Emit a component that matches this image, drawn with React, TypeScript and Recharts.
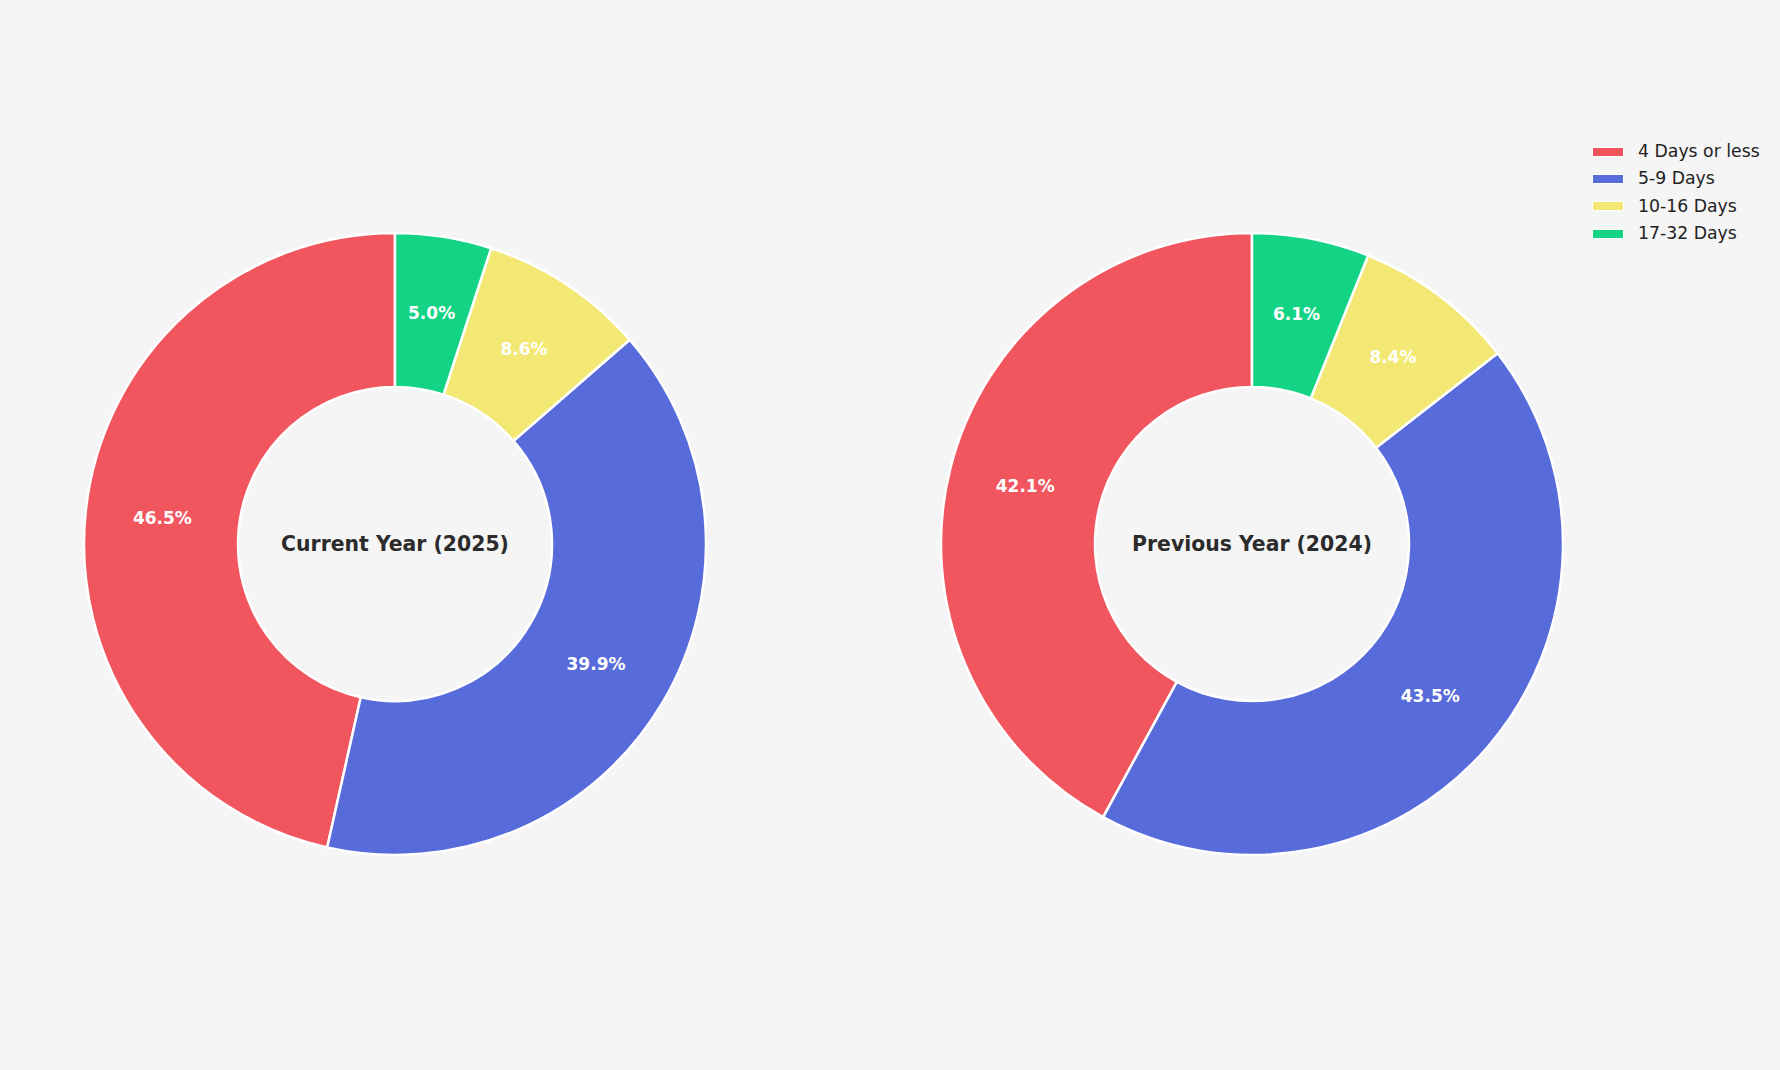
import React from "react";
import { PieChart, Pie, Cell } from "recharts";

// ─── Data ─────────────────────────────────────────────────────────────────────
const CATEGORIES = ["4 Days or less", "5-9 Days", "10-16 Days", "17-32 Days"];
const CURRENT_YEAR = [46.5, 39.9, 8.6, 5.0];
const PREVIOUS_YEAR = [42.1, 43.5, 8.4, 6.1];
const CENTER_TITLES = ["Current Year (2025)", "Previous Year (2024)"];

const COLORS = ["#F1555E", "#586BDB", "#F3E873", "#13D384"];
const BG = "#F5F5F5";
const FONT = "'DejaVu Sans', sans-serif";

const W = 1780;
const H = 1070;
const CY = 544;
const CX_LEFT = 395;
const CX_RIGHT = 1252;
const INNER = 157;
const OUTER = 311;

const toRows = (values: number[]) =>
  CATEGORIES.map((name, i) => ({ name, value: values[i] }));

const RADIAN = Math.PI / 180;

// percentage label at the middle of the ring
const renderPct = (props: any) => {
  const { cx, cy, midAngle, innerRadius, outerRadius, value } = props;
  const r = (innerRadius + outerRadius) / 2;
  const x = cx + r * Math.cos(-midAngle * RADIAN);
  const y = cy + r * Math.sin(-midAngle * RADIAN);
  return (
    <text
      x={x}
      y={y}
      fill="#ffffff"
      textAnchor="middle"
      dominantBaseline="central"
      fontFamily={FONT}
      fontWeight="bold"
      fontSize={17}
    >
      {`${value.toFixed(1)}%`}
    </text>
  );
};

function Legend() {
  return (
    <div style={{ position: "absolute", left: 1592, top: 138, fontFamily: FONT }}>
      {CATEGORIES.map((c, i) => (
        <div key={c} style={{ display: "flex", alignItems: "center", height: 27.3 }}>
          <div
            style={{
              width: 30,
              height: 8,
              background: COLORS[i],
              border: "1.5px solid #fff",
              marginRight: 14,
            }}
          />
          <span style={{ fontSize: 17.3, color: "#222", lineHeight: 1 }}>{c}</span>
        </div>
      ))}
    </div>
  );
}

export default function App() {
  const sets = [CURRENT_YEAR, PREVIOUS_YEAR];
  const centers = [CX_LEFT, CX_RIGHT];
  return (
    <div style={{ position: "relative", width: W, height: H, background: BG }}>
      <style>{`body{margin:0;background:${BG};}`}</style>
      <PieChart width={W} height={H} margin={{ top: 0, right: 0, bottom: 0, left: 0 }}>
        {sets.map((vals, k) => (
          <Pie
            key={k}
            data={toRows(vals)}
            dataKey="value"
            nameKey="name"
            cx={centers[k]}
            cy={CY}
            innerRadius={INNER}
            outerRadius={OUTER}
            startAngle={90}
            endAngle={450}
            stroke="#ffffff"
            strokeWidth={2.5}
            label={renderPct}
            labelLine={false}
            isAnimationActive={false}
          >
            {vals.map((_, i) => (
              <Cell key={i} fill={COLORS[i]} />
            ))}
          </Pie>
        ))}
        {CENTER_TITLES.map((t, k) => (
          <text
            key={t}
            x={centers[k]}
            y={CY}
            textAnchor="middle"
            dominantBaseline="central"
            fontFamily={FONT}
            fontWeight="bold"
            fontSize={20.4}
            fill="#2b2b2b"
          >
            {t}
          </text>
        ))}
      </PieChart>
      <Legend />
    </div>
  );
}
